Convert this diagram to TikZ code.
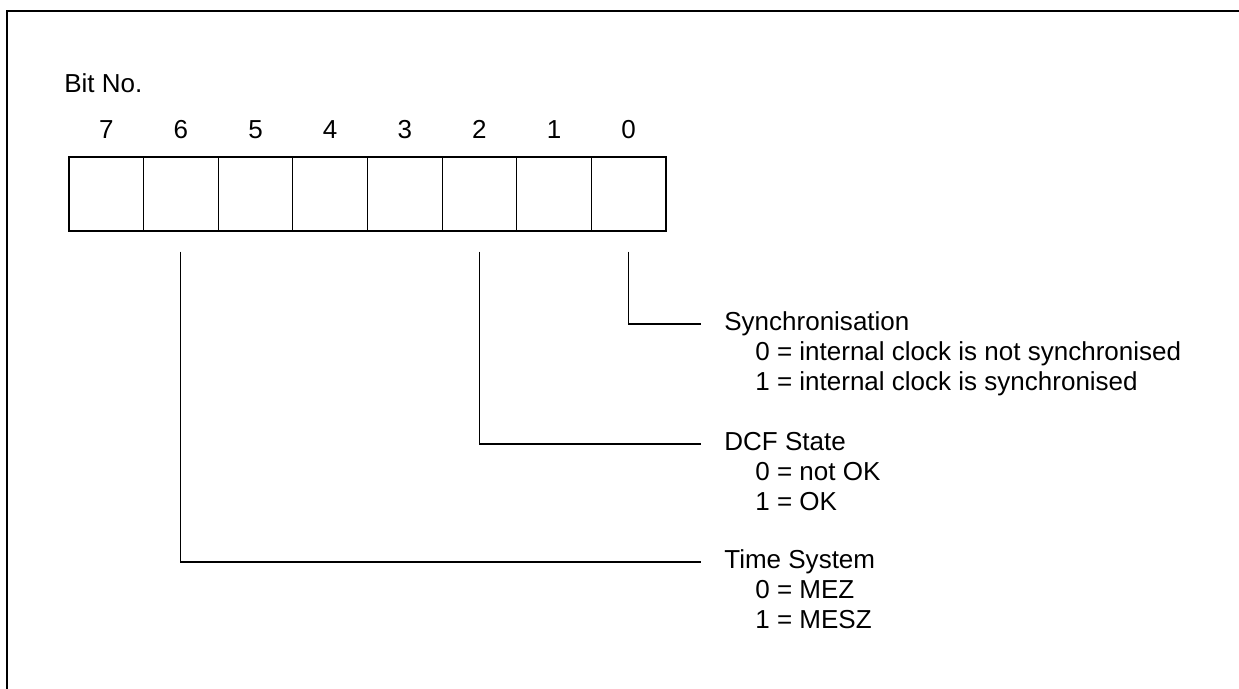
\documentclass[tikz,border=0pt]{standalone}
\usepackage{fontspec}
\setmainfont{Liberation Sans}
\usetikzlibrary{positioning,calc}
\newcommand{\bitfont}{\fontsize{14.8}{17.07}\selectfont}
\tikzset{
  cell/.style={draw,line width=0.6pt,minimum width=14.925mm,minimum height=14.8mm,inner sep=0pt},
  digit/.style={font=\bitfont,inner sep=0pt,text height=0.716em,text depth=0pt},
  title/.style={font=\bitfont,anchor=west,inner sep=0pt,text height=0.716em,text depth=0pt},
  value/.style={font=\bitfont,anchor=base west,inner sep=0pt},
  wire/.style={line width=0.6pt},
  frame/.style={line width=1.2pt},
}

\begin{document}
\begin{tikzpicture}[x=0.2mm,y=-0.2mm]
    \useasboundingbox (0,0) rectangle (1239,688);
    \draw[frame] (1245,11) -| (6.7,695);
    \node[font=\bitfont,anchor=base west,inner sep=0pt] (bitno) at (64,92.7) {Bit No.};
    % register cells
    \foreach \b [count=\i from 0] in {7,...,0}
    {
      \node[cell] (bit\b) at ({69+74.625*(\i+0.5)},194) {};
      \node[digit,above=3.6mm of bit\b] (num\b) {\b};
    }
    % descriptions
    \foreach \b/\y/\nm/\t/\za/\zb in {
      0/324/sync/Synchronisation/internal clock is not synchronised/internal clock is synchronised,
      2/444/dcf/DCF State/not OK/OK,
      6/562/tsys/Time System/MEZ/MESZ}
    {
      \node[title] (\nm) at (724,\y) {\t};
      \node[value] (\nm0) at ($(\nm.south west)+(31,30)$) {0 = \za};
      \node[value] (\nm1) at ($(\nm.south west)+(31,60)$) {1 = \zb};
      \draw[wire] ([yshift=-4mm]bit\b.south) |- ([xshift=-4.6mm]\nm.west);
    }
  \end{tikzpicture}
\end{document}
